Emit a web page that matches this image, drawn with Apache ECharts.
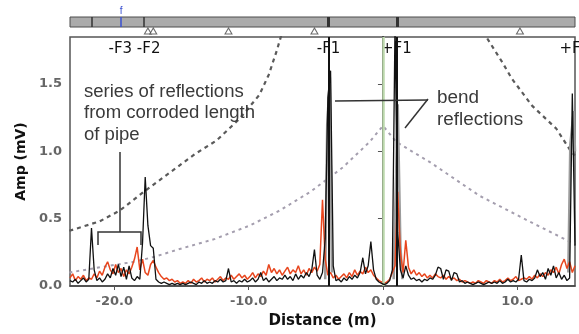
<!DOCTYPE html>
<html><head><meta charset="utf-8">
<script src="https://cdn.jsdelivr.net/npm/echarts@6/dist/echarts.min.js"></script>
<style>html,body{margin:0;padding:0;background:#fff}#c{width:579px;height:334px}</style>
</head><body><div id="c"></div>
<script>
// ---- data ----
const startDist = -23.3, stepDist = 0.2;   // sampling grid of the traces (m)
const blackAmp = [
0.04,0.03,0.05,0.02,0.04,0.06,0.03,0.05,0.43,0.12,
0.04,0.06,0.03,0.05,0.09,0.06,0.13,0.08,0.16,0.07,
0.14,0.05,0.15,0.06,0.04,0.07,0.05,0.32,0.81,0.45,
0.30,0.28,0.05,0.03,0.02,0.03,0.02,0.01,0.02,0.01,
0.02,0.01,0.02,0.01,0.02,0.03,0.02,0.01,0.03,0.02,
0.04,0.02,0.03,0.02,0.04,0.03,0.05,0.03,0.04,0.13,
0.03,0.04,0.02,0.04,0.03,0.05,0.03,0.04,0.06,0.03,
0.05,0.10,0.04,0.06,0.03,0.05,0.07,0.04,0.06,0.05,
0.08,0.05,0.07,0.04,0.09,0.05,0.08,0.06,0.10,0.07,
0.12,0.27,0.08,0.05,0.10,0.35,1.40,1.60,0.15,0.04,
0.05,0.03,0.06,0.04,0.07,0.05,0.08,0.06,0.10,0.21,
0.09,0.15,0.33,0.12,0.05,0.03,0.02,0.01,0.02,0.04,
0.12,1.95,0.40,0.12,0.06,0.15,0.08,0.05,0.06,0.04,
0.05,0.03,0.05,0.04,0.06,0.05,0.08,0.14,0.13,0.05,
0.12,0.11,0.04,0.10,0.09,0.03,0.04,0.02,0.03,0.02,
0.01,0.02,0.03,0.02,0.01,0.02,0.03,0.02,0.03,0.02,
0.04,0.02,0.03,0.05,0.03,0.04,0.03,0.05,0.23,0.04,
0.03,0.05,0.04,0.06,0.12,0.07,0.10,0.05,0.13,0.08,
0.15,0.06,0.10,0.05,0.08,0.04,0.06,1.43,0.30];
const redAmp = [
0.06,0.09,0.04,0.07,0.05,0.08,0.04,0.06,0.05,0.09,
0.06,0.11,0.08,0.14,0.18,0.12,0.09,0.16,0.10,0.13,
0.07,0.12,0.09,0.14,0.20,0.29,0.12,0.20,0.10,0.08,
0.16,0.19,0.14,0.10,0.07,0.05,0.06,0.04,0.05,0.03,
0.04,0.02,0.03,0.02,0.04,0.02,0.05,0.03,0.04,0.06,
0.03,0.05,0.04,0.06,0.03,0.05,0.07,0.04,0.06,0.05,
0.08,0.05,0.07,0.09,0.06,0.08,0.05,0.07,0.10,0.06,
0.09,0.07,0.11,0.08,0.16,0.10,0.13,0.09,0.12,0.08,
0.11,0.14,0.09,0.12,0.10,0.15,0.09,0.12,0.08,0.13,
0.10,0.14,0.11,0.16,0.64,0.20,0.08,0.10,0.06,0.08,
0.05,0.07,0.09,0.06,0.10,0.07,0.12,0.08,0.11,0.09,
0.14,0.10,0.12,0.08,0.06,0.04,0.03,0.02,0.03,0.05,
0.10,0.15,0.70,0.25,0.10,0.34,0.14,0.09,0.12,0.08,
0.10,0.07,0.09,0.06,0.08,0.06,0.09,0.07,0.06,0.08,
0.05,0.07,0.05,0.06,0.04,0.05,0.03,0.04,0.03,0.02,
0.03,0.02,0.04,0.03,0.02,0.04,0.03,0.02,0.04,0.03,
0.05,0.03,0.04,0.06,0.04,0.05,0.07,0.04,0.05,0.06,
0.05,0.07,0.05,0.08,0.06,0.09,0.07,0.10,0.08,0.12,
0.10,0.14,0.09,0.16,0.20,0.13,0.18,0.10,0.15];
// gray echo trace near the big reflections (null = gap)
const grayDist = [-4.3,-4.15,-3.95,-3.8,-3.7, 0.8,1.1,1.3,1.45,1.5, 13.8,13.95,14.2,14.3];
const grayAmp  = [0.05,1.2,1.55,0.1,null, 0.05,1.35,0.3,0.05,null, 0.1,1.05,1.3,1.0];
const dacUpperLeftDist  = [-23.35,-21.1,-19.6,-17.8,-15.9,-14.0,-12.4,-10.7,-9.2,-8.5,-7.9,-7.4];
const dacUpperLeftAmp   = [0.41,0.48,0.56,0.70,0.84,0.98,1.08,1.24,1.42,1.57,1.75,1.92];
const dacUpperRightDist = [7.0,7.7,8.9,9.6,11.1,12.9,14.0,14.3];
const dacUpperRightAmp  = [2.0,1.85,1.66,1.54,1.34,1.17,1.0,0.97];
const dacLowerDist = [-23.35,-21,-18.5,-16.9,-15.3,-12.5,-9.9,-7.7,-5.4,-3,-1,0,1,3.5,7.2,10.9,13.9,14.3];
const dacLowerAmp  = [0.10,0.14,0.18,0.22,0.27,0.35,0.45,0.56,0.70,0.88,1.07,1.19,1.07,0.92,0.67,0.48,0.33,0.32];
const xTicks = [-20,-10,0,10];
const yTicks = [0,0.5,1.0,1.5];
const featureNames = ['-F3 -F2','-F1','+F1','+F2'];
const featureLabelDist = [-18.5,-4.05,1.0,13.1];
const featureLineDist = [-4.05,1.0];
const barFeatureDist = [-21.7,-17.8,-4.1,1.05];
const weldDist = [-17.5,-17.1,-11.5,-5.1,10.2];
const flangeDist = -19.5;

// ---- build ----
const pairs = (xs, ys) => xs.map((x,i)=>[x, ys[i] === null ? '-' : ys[i]]);
const sampled = arr => arr.map((v,i)=>[+(startDist + i*stepDist).toFixed(2), v]);
const X_MIN = -23.3, X_MAX = 14.3;

const chart = echarts.init(document.getElementById('c'), null, {renderer:'canvas'});
const dacDashLight = {color:'#a49eae', width:2, type:[3,4]};
const dacDashDark = {color:'#5a5a5a', width:2.2, type:[4,4]};
const tickFont = {fontFamily:'DejaVu Sans', fontWeight:'bold', fontSize:13, color:'#666'};

chart.setOption({
  animation:false,
  backgroundColor:'#fff',
  grid:[
    {left:70, right:4, top:37, bottom:46, show:true, borderColor:'#555', borderWidth:1.5},
    {left:70, right:4, top:17, height:10, show:true, backgroundColor:'#ababab', borderColor:'#4d4d4d', borderWidth:1}
  ],
  xAxis:[
    {type:'value', gridIndex:0, min:X_MIN, max:X_MAX,
     name:'Distance (m)', nameLocation:'middle', nameGap:28,
     nameTextStyle:{fontFamily:'DejaVu Sans', fontWeight:'bold', fontSize:15, color:'#111'},
     splitLine:{show:false},
     axisLine:{lineStyle:{color:'#444', width:1.5}},
     axisTick:{customValues:xTicks, length:4, lineStyle:{color:'#555'}},
     axisLabel:Object.assign({customValues:xTicks, margin:9, formatter:v=>v.toFixed(1)}, tickFont)},
    {type:'value', gridIndex:1, min:X_MIN, max:X_MAX, show:false}
  ],
  yAxis:[
    {type:'value', gridIndex:0, min:0, max:1.85,
     name:'Amp (mV)', nameLocation:'middle', nameGap:37, nameRotate:90,
     nameTextStyle:{fontFamily:'DejaVu Sans', fontWeight:'bold', fontSize:14, color:'#111'},
     splitLine:{show:false},
     axisLine:{show:true, lineStyle:{color:'#333', width:2}},
     axisTick:{show:true, customValues:yTicks, length:5, lineStyle:{color:'#555'}},
     axisLabel:Object.assign({customValues:yTicks, margin:8, formatter:v=>v.toFixed(1)}, tickFont)},
    {type:'value', gridIndex:1, min:0, max:1, show:false}
  ],
  series:[
    {type:'line', name:'dacLower', data:pairs(dacLowerDist, dacLowerAmp), symbol:'none', lineStyle:dacDashLight, z:2,
     markLine:{silent:true, symbol:['none','none'], label:{show:false},
       lineStyle:{color:'#bcd8ad', width:2.5, type:'solid'}, data:[{xAxis:0}]}},
    {type:'line', name:'dacUpperL', data:pairs(dacUpperLeftDist, dacUpperLeftAmp), symbol:'none', lineStyle:dacDashDark, z:2},
    {type:'line', name:'dacUpperR', data:pairs(dacUpperRightDist, dacUpperRightAmp), symbol:'none', lineStyle:dacDashDark, z:2},
    {type:'line', name:'gray', data:pairs(grayDist, grayAmp), symbol:'none', connectNulls:false,
     lineStyle:{color:'#9c9c9c', width:2.5}, z:3},
    {type:'line', name:'red', data:sampled(redAmp), symbol:'none', lineStyle:{color:'#e8461e', width:1.5}, z:4},
    {type:'line', name:'black', data:sampled(blackAmp), symbol:'none', lineStyle:{color:'#111', width:1.3}, z:5,
     markLine:{silent:true, symbol:['none','none'], label:{show:false},
       lineStyle:{color:'#111', width:2, type:'solid'},
       data:featureLineDist.map(d=>({xAxis:d}))}},
    {type:'scatter', name:'features', symbol:'circle', symbolSize:1, itemStyle:{color:'#fff', opacity:1}, z:1, clip:false,
     data:featureLabelDist.map((d,i)=>({value:[d,1.76], label: i===3 ? {position:'right', distance:0} : {}})),
     label:{show:true, position:'inside', formatter:p=>featureNames[p.dataIndex],
       fontFamily:'DejaVu Sans', fontSize:15, color:'#111', textBorderWidth:0, opacity:1}},
    {type:'scatter', name:'welds', xAxisIndex:1, yAxisIndex:1, clip:false,
     data:weldDist.map(d=>[d,0]), symbol:'triangle', symbolSize:[7,6], symbolOffset:[0,4],
     itemStyle:{color:'#fff', borderColor:'#444', borderWidth:1}, z:6,
     markLine:{silent:true, symbol:['none','none'], label:{show:false},
       data:barFeatureDist.map((d,i)=>({xAxis:d, lineStyle:{color:'#333', type:'solid', width: i<2 ? 1.5 : 3}}))
         .concat([{xAxis:flangeDist, lineStyle:{color:'#3a50d0', type:'solid', width:1.5},
                   label:{show:true, position:'end', formatter:'f', color:'#3a50d0', fontSize:10, distance:1}}])}}
  ],
  graphic:[
    {type:'text', x:84, y:81, z:100, scaleX:1.03,
     style:{text:'series of reflections\nfrom corroded length\nof pipe', font:'18px "Liberation Sans", Arial, sans-serif',
            fill:'#3a3a3a', lineHeight:21.5, verticalAlign:'top'}},
    {type:'text', x:437, y:87, z:100, scaleX:1.05,
     style:{text:'bend\nreflections', font:'18px "Liberation Sans", Arial, sans-serif',
            fill:'#3a3a3a', lineHeight:22, verticalAlign:'top'}},
    {type:'line', z:100, shape:{x1:120, y1:152, x2:120, y2:232}, style:{stroke:'#333', lineWidth:1.5}},
    {type:'polyline', z:100, shape:{points:[[98,245],[98,232],[141,232],[141,245]]}, style:{stroke:'#333', lineWidth:1.5, fill:null}},
    {type:'line', z:100, shape:{x1:335, y1:101, x2:428, y2:100}, style:{stroke:'#333', lineWidth:1.5}},
    {type:'line', z:100, shape:{x1:428, y1:99, x2:405, y2:128}, style:{stroke:'#333', lineWidth:1.5}}
  ]
});
</script></body></html>
